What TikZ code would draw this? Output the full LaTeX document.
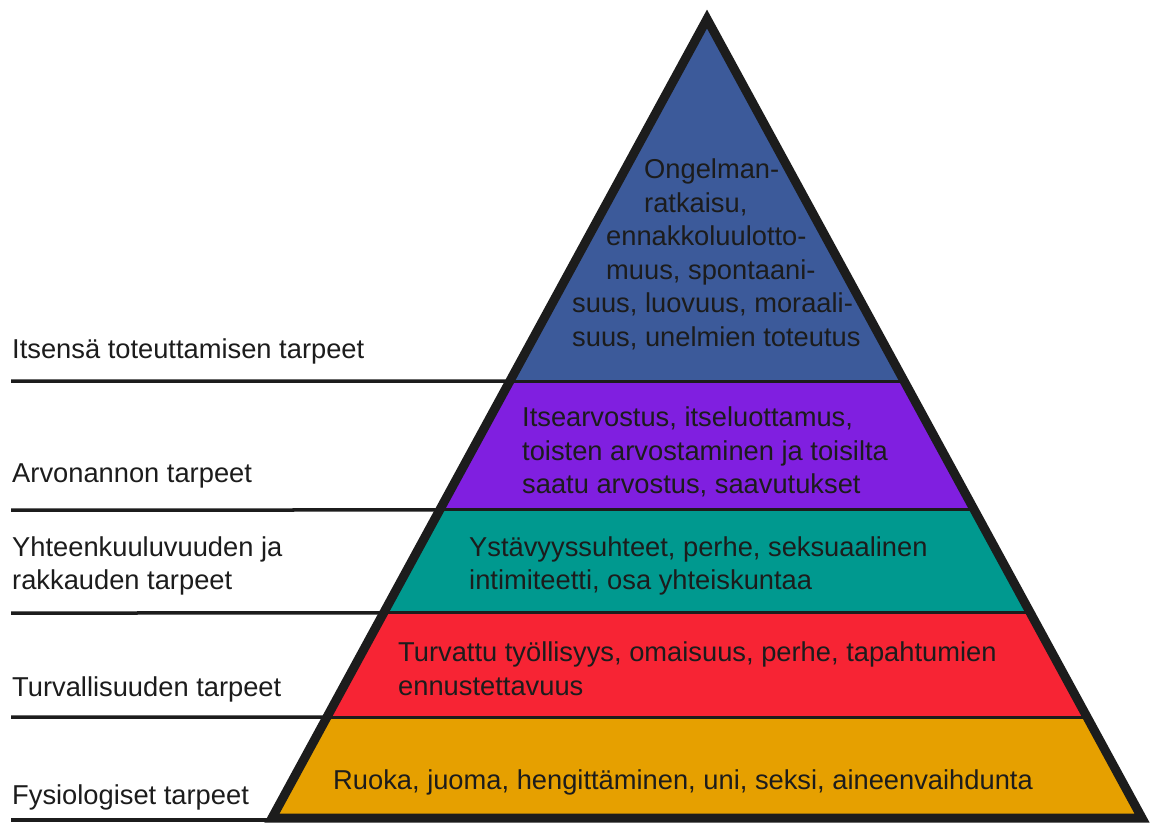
\documentclass[tikz,border=0pt]{standalone}
\usepackage{fontspec}
\setmainfont{Liberation Sans}
\usetikzlibrary{calc}
\definecolor{ink}{HTML}{1C1C1C}
\definecolor{lvlblue}{HTML}{3C5A9A}
\definecolor{lvlpurple}{HTML}{801FE0}
\definecolor{lvlteal}{HTML}{00998F}
\definecolor{lvlred}{HTML}{F72434}
\definecolor{lvlgold}{HTML}{E6A000}
\begin{document}
\begin{tikzpicture}[x=1pt,y=-1pt,
  txt/.style={anchor=base west, inner sep=0pt, font=\fontsize{27.3}{33}\selectfont, text=ink},
  sepline/.style={draw=ink, line width=3pt},
  guideline/.style={draw=ink, line width=3.5pt},
  outline/.style={draw=ink, line width=9pt, line join=miter}]
\useasboundingbox (0,0) rectangle (1151,825);
\fill[white] (0,0) rectangle (1151,825);
% pyramid corners
\coordinate (A) at (707,19);
\coordinate (BL) at (272,818);
\coordinate (BR) at (1142,818);
% layer boundaries
\coordinate (L1) at ($(A)!0.4531!(BL)$); \coordinate (R1) at ($(A)!0.4531!(BR)$);
\coordinate (L2) at ($(A)!0.6145!(BL)$); \coordinate (R2) at ($(A)!0.6145!(BR)$);
\coordinate (L3) at ($(A)!0.7434!(BL)$); \coordinate (R3) at ($(A)!0.7434!(BR)$);
\coordinate (L4) at ($(A)!0.8736!(BL)$); \coordinate (R4) at ($(A)!0.8736!(BR)$);
% left ends of guide lines
\coordinate (G1) at (11,381);
\coordinate (G2) at (11,510);
\coordinate (G3) at (11,613);
\coordinate (G4) at (11,717);
\coordinate (G5) at (11,820);
\coordinate (B5) at (290,820);
% fills
\fill[lvlblue] (A) -- (R1) -- (L1) -- cycle;
\fill[lvlpurple] (L1) -- (R1) -- (R2) -- (L2) -- cycle;
\fill[lvlteal] (L2) -- (R2) -- (R3) -- (L3) -- cycle;
\fill[lvlred] (L3) -- (R3) -- (R4) -- (L4) -- cycle;
\fill[lvlgold] (L4) -- (R4) -- (BR) -- (BL) -- cycle;
% separators
\draw[sepline] (L1) -- (R1);
\draw[sepline] (L2) -- (R2);
\draw[sepline] (L3) -- (R3);
\draw[sepline] (L4) -- (R4);
% guide lines
\draw[guideline] (G1) -- (L1);
\draw[guideline] (G2) -- (L2);
\draw[guideline] (G3) -- (L3);
\draw[guideline] (G4) -- (L4);
\draw[guideline] (G5) -- (B5);
% outline
\draw[outline] (A) -- (BR) -- (BL) -- cycle;
% left labels
\node[txt] (lab1) at (12,358) {Itsensä toteuttamisen tarpeet};
\node[txt] (lab2) at (12,482) {Arvonannon tarpeet};
\node[txt] (lab3a) at (12,556) {Yhteenkuuluvuuden ja};
\node[txt] (lab3b) at (12,589) {rakkauden tarpeet};
\node[txt] (lab4) at (12,696) {Turvallisuuden tarpeet};
\node[txt] (lab5) at (12,804) {Fysiologiset tarpeet};
% top layer text
\node[txt] (t1) at (644,178) {Ongelman-};
\node[txt] (t2) at (644,212) {ratkaisu,};
\node[txt] (t3) at (606,245) {ennakkoluulotto-};
\node[txt] (t4) at (606,279) {muus, spontaani-};
\node[txt] (t5) at (572,312) {suus, luovuus, moraali-};
\node[txt] (t6) at (572,346) {suus, unelmien toteutus};
% purple
\node[txt] (p1) at (522,426) {Itsearvostus, itseluottamus,};
\node[txt] (p2) at (522,460) {toisten arvostaminen ja toisilta};
\node[txt] (p3) at (522,493) {saatu arvostus, saavutukset};
% teal
\node[txt] (y1) at (469,556) {Ystävyyssuhteet, perhe, seksuaalinen};
\node[txt] (y2) at (469,589) {intimiteetti, osa yhteiskuntaa};
% red
\node[txt] (r1) at (398,661) {Turvattu työllisyys, omaisuus, perhe, tapahtumien};
\node[txt] (r2) at (398,695) {ennustettavuus};
% gold
\node[txt] (f1) at (333,789) {Ruoka, juoma, hengittäminen, uni, seksi, aineenvaihdunta};
\end{tikzpicture}
\end{document}
